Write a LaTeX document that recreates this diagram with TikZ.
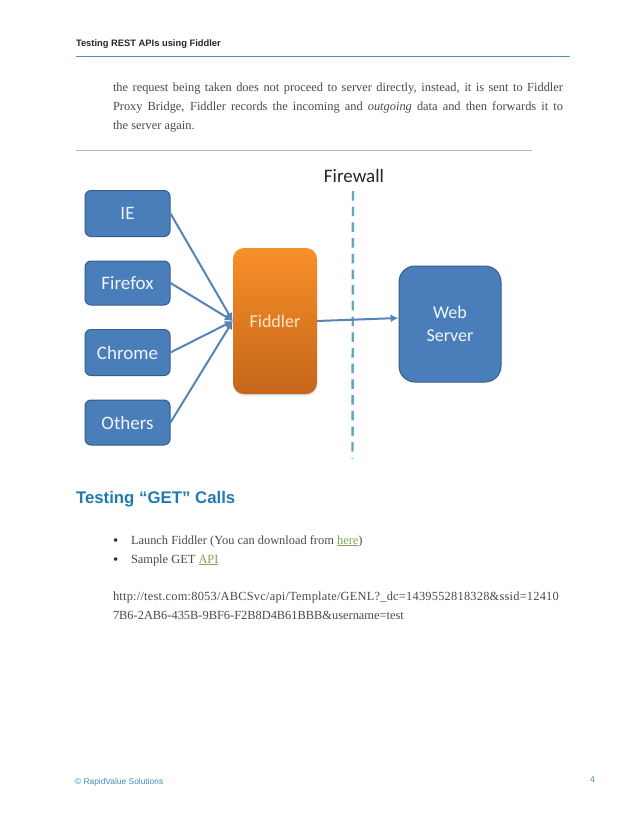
\documentclass[tikz,border=0pt]{standalone}
\usepackage{fontspec}
\setmainfont{Liberation Serif}
\newfontfamily\hdfont{Liberation Sans}
\newfontfamily\dgfont{Carlito}
\usetikzlibrary{arrows.meta,shadows}
\definecolor{boxblue}{HTML}{4A7EBB}
\definecolor{boxedge}{HTML}{385D8A}
\definecolor{flowblue}{HTML}{5584B8}
\definecolor{bodygrey}{HTML}{4A4A4A}
\definecolor{headblue}{HTML}{1F7AB0}
\definecolor{linkgreen}{HTML}{7FA650}
\definecolor{fwteal}{HTML}{5FAAB8}
\definecolor{ruleblue}{HTML}{4F93AE}
\definecolor{orangetop}{HTML}{F79028}
\definecolor{orangebot}{HTML}{C5661B}
\tikzset{
  x=1bp,y=-1bp,
  pagetext/.style={anchor=base west,inner sep=0pt,outer sep=0pt},
  bodytext/.style={pagetext,text=bodygrey,font=\fontsize{12.4bp}{14bp}\selectfont},
  bulletmark/.style={pagetext,text=black!80,font=\fontsize{15bp}{14bp}\selectfont},
  client/.style={draw=boxedge,line width=1bp,fill=boxblue,rounded corners=6bp,
    minimum width=85bp,text=white!92!boxblue,inner sep=0pt,
    font=\dgfont\fontsize{19bp}{22bp}\selectfont},
  flow/.style={draw=flowblue,line width=2bp,-{Latex[length=8bp,width=8bp]}},
}
\newcommand{\jline}[1]{\makebox[450bp][s]{#1}}
\begin{document}
\begin{tikzpicture}
\useasboundingbox (0,0) rectangle (638,826);
\fill[white] (0,0) rectangle (638,826);
% page furniture
\node[pagetext,font=\hdfont\bfseries\fontsize{9.35bp}{11bp}\selectfont,text=black!85] (hd) at (76,46) {Testing REST APIs using Fiddler};
\coordinate (r1a) at (76,56); \coordinate (r1b) at (570,56);
\draw[line width=.9bp,color=ruleblue] (r1a) -- (r1b);
\node[bodytext] (p1) at (113,91) {\jline{the request being taken does not proceed to server directly, instead, it is sent to Fiddler}};
\node[bodytext] (p2) at (113,110) {\jline{Proxy Bridge, Fiddler records the incoming and \textit{outgoing} data and then forwards it to}};
\node[bodytext] (p3) at (113,129) {the server again.};
\coordinate (r2a) at (76,150.5); \coordinate (r2b) at (532,150.5);
\draw[line width=.7bp,color=black!28] (r2a) -- (r2b);
% diagram
\node[client,minimum height=46bp] (ie) at (127.5,213.5) {IE};
\node[client,minimum height=44bp] (ff) at (127.5,283) {Firefox};
\node[client,minimum height=46bp] (ch) at (127.5,352.5) {Chrome};
\node[client,minimum height=45bp] (ot) at (127.5,422.5) {Others};
\node[rounded corners=11bp,minimum width=84bp,minimum height=146bp,inner sep=0pt,
  top color=orangetop,bottom color=orangebot,
  drop shadow={opacity=.25,shadow xshift=0bp,shadow yshift=-1.5bp},
  text=white!80!orange,font=\dgfont\fontsize{18bp}{20bp}\selectfont] (fid) at (275,321) {Fiddler};
\node[client,minimum width=102bp,minimum height=116bp,rounded corners=16bp,align=center,
  font=\dgfont\fontsize{18bp}{22.5bp}\selectfont] (web) at (450,324) {Web\\Server};
\node[inner sep=0pt,font=\dgfont\fontsize{19bp}{22bp}\selectfont,text=black!85] (fw) at (354,176) {Firewall};
\coordinate (fwa) at (353,191); \coordinate (fwb) at (352.5,458.5);
\draw[color=fwteal,line width=2.4bp,dash pattern=on 9.5bp off 6.2bp] (fwa) -- (fwb);
\draw[flow] (ie.east) -- (fid.west);
\draw[flow] (ff.east) -- (fid.west);
\draw[flow] (ch.east) -- (fid.west);
\draw[flow] (ot.east) -- (fid.west);
\draw[flow] (fid.east) -- ([yshift=6bp]web.west);
% lower text
\node[pagetext,font=\hdfont\bfseries\fontsize{16.8bp}{20bp}\selectfont,text=headblue] (h2) at (76,503) {Testing “GET” Calls};
\node[bulletmark] (b1) at (113,545) {•};
\node[bodytext] (t1) at (131,544) {Launch Fiddler (You can download from \textcolor{linkgreen}{\underline{here}})};
\node[bulletmark] (b2) at (113,564) {•};
\node[bodytext] (t2) at (131,563) {Sample GET \textcolor{linkgreen}{\underline{API}}};
\node[bodytext] (u1) at (113,600) {\addfontfeatures{LetterSpace=1.8}http://test.com:8053/ABCSvc/api/Template/GENL?\_dc=1439552818328\&ssid=12410};
\node[bodytext] (u2) at (113,619) {7B6-2AB6-435B-9BF6-F2B8D4B61BBB\&username=test};
\node[pagetext,font=\hdfont\fontsize{8.4bp}{10bp}\selectfont,text=headblue!85] (ft) at (75,784) {© RapidValue Solutions};
\node[pagetext,font=\hdfont\fontsize{8.6bp}{10bp}\selectfont,text=headblue!85] (pg) at (590,782) {4};
\end{tikzpicture}
\end{document}
